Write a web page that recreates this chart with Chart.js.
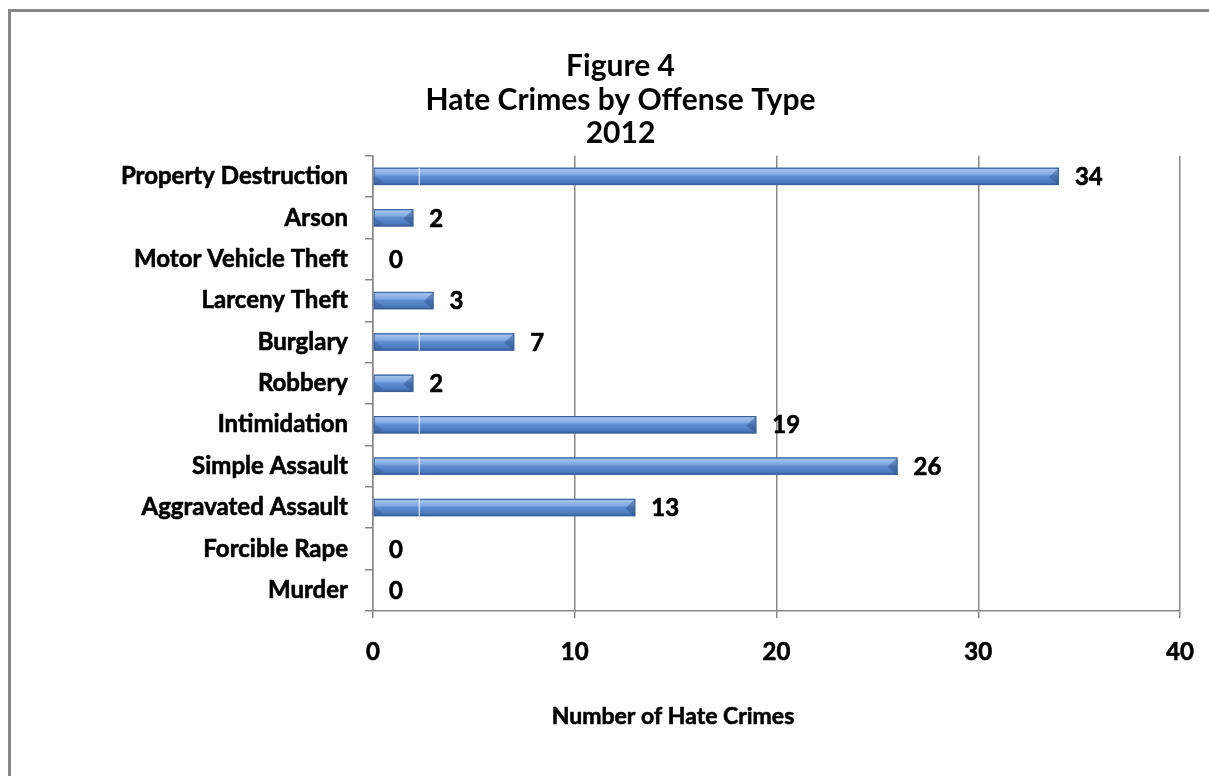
<!DOCTYPE html>
<html>
<head>
<meta charset="utf-8">
<script src="https://cdn.jsdelivr.net/npm/chart.js@4/dist/chart.umd.min.js"></script>
<style>
  html, body { margin: 0; padding: 0; background: #fff; overflow: hidden; }
  #frame { position: absolute; left: 8px; top: 9px; width: 1300px; height: 900px; border: 3px solid #878787; box-sizing: border-box; }
  #wrap { position: absolute; left: 0; top: 0; width: 1209px; height: 776px; }
</style>
</head>
<body>
<div id="frame"></div>
<div id="wrap"><canvas id="chart" width="1209" height="776"></canvas></div>
<script>
var offenseTypes = [
	"Property Destruction",
	"Arson",
	"Motor Vehicle Theft",
	"Larceny Theft",
	"Burglary",
	"Robbery",
	"Intimidation",
	"Simple Assault",
	"Aggravated Assault",
	"Forcible Rape",
	"Murder"
];
var hateCrimes = [34, 2, 0, 3, 7, 2, 19, 26, 13, 0, 0];
var xTicks = [0, 10, 20, 30, 40];
var titleLines = ["Figure 4", "Hate Crimes by Offense Type", "2012"];
var xAxisTitle = "Number of Hate Crimes";

var FONT = "Lato, 'Open Sans', sans-serif";
var gridGray = '#878787';

// draw bold text with a hairline stroke so Lato looks as heavy as the original
function heavyText(ctx, txt, x, y){
	ctx.lineWidth = 0.6;
	ctx.strokeStyle = '#000';
	ctx.strokeText(txt, x, y);
	ctx.fillText(txt, x, y);
}

// shaded bars + value labels, drawn from the bar elements
var barLook = {
	id: 'barLook',
	afterDatasetsDraw: function(chart){
		var ctx = chart.ctx;
		var meta = chart.getDatasetMeta(0);
		meta.data.forEach(function(bar, i){
			var p = bar.getProps(['x', 'y', 'base', 'height'], true);
			var top = p.y - p.height / 2, bottom = p.y + p.height / 2;
			var w = p.x - p.base;
			ctx.save();
			if (w > 1) {
				var g = ctx.createLinearGradient(0, top, 0, bottom);
				g.addColorStop(0, '#4a74b0');
				g.addColorStop(0.1, '#a3c2ec');
				g.addColorStop(0.38, '#82aae4');
				g.addColorStop(0.5, '#5e8dd2');
				g.addColorStop(0.85, '#4b79bd');
				g.addColorStop(1, '#2f5690');
				ctx.fillStyle = g;
				ctx.fillRect(p.base, top, w, p.height);
				var b = Math.min(10, w / 2);
				ctx.fillStyle = 'rgba(40,75,130,0.3)';
				// left bevel
				ctx.beginPath();
				ctx.moveTo(p.base, top + p.height * 0.45);
				ctx.lineTo(p.base + b, bottom - 3);
				ctx.lineTo(p.base, bottom);
				ctx.closePath();
				ctx.fill();
				// right bevel
				ctx.fillStyle = 'rgba(40,75,130,0.45)';
				ctx.beginPath();
				ctx.moveTo(p.x, top);
				ctx.lineTo(p.x - b, top + p.height * 0.55);
				ctx.lineTo(p.x, bottom);
				ctx.closePath();
				ctx.fill();
				ctx.strokeStyle = '#3b649f';
				ctx.lineWidth = 1;
				ctx.strokeRect(p.base + 0.5, top + 0.5, w - 1, p.height - 1);
				if (w > 60) {
					ctx.strokeStyle = 'rgba(255,255,255,0.95)';
					ctx.beginPath();
					ctx.moveTo(p.base + 45.5, top);
					ctx.lineTo(p.base + 45.5, bottom);
					ctx.stroke();
				}
			}
			ctx.fillStyle = '#000';
			ctx.font = 'bold 24px ' + FONT;
			ctx.textAlign = 'left';
			ctx.textBaseline = 'middle';
			heavyText(ctx, String(hateCrimes[i]), p.x + 16, p.y + 1);
			ctx.restore();
		});
	},
	// axis title sits left of the plot centre in the original
	afterDraw: function(chart){
		var ctx = chart.ctx;
		var area = chart.chartArea;
		ctx.save();
		ctx.fillStyle = '#000';
		ctx.font = 'bold 23px ' + FONT;
		ctx.textAlign = 'center';
		ctx.textBaseline = 'middle';
		heavyText(ctx, xAxisTitle, area.left + 300, area.bottom + 106);
		ctx.restore();
	}
};

new Chart(document.getElementById('chart'), {
	type: 'bar',
	data: {
		labels: offenseTypes,
		datasets: [{
			data: hateCrimes,
			backgroundColor: 'rgba(0,0,0,0)',
			borderWidth: 0,
			barPercentage: 0.42,
			categoryPercentage: 1
		}]
	},
	plugins: [barLook],
	options: {
		indexAxis: 'y',
		responsive: false,
		animation: false,
		devicePixelRatio: 1,
		layout: { padding: { left: 61, right: 29, top: 49, bottom: 107 } },
		plugins: {
			legend: { display: false },
			tooltip: { enabled: false },
			title: {
				display: true,
				text: titleLines,
				color: '#000',
				font: { family: FONT, size: 30, weight: 'bold', lineHeight: 1.13 },
				padding: { top: 0, bottom: 5 }
			}
		},
		scales: {
			x: {
				min: 0,
				max: 40,
				afterBuildTicks: function(scale){
					scale.ticks = xTicks.map(function(v){ return { value: v }; });
				},
				afterFit: function(scale){
					scale.height = 58;
					scale.paddingLeft = 0;
					scale.paddingRight = 0;
				},
				grid: { color: gridGray, lineWidth: 1.5, tickLength: 7 },
				border: { color: gridGray, width: 1.5 },
				ticks: {
					color: '#000',
					padding: 20,
					maxRotation: 0,
					textStrokeColor: '#000',
					textStrokeWidth: 0.6,
					font: { family: FONT, size: 24, weight: 'bold' }
				}
			},
			y: {
				afterFit: function(scale){ scale.width = 312; },
				grid: { drawOnChartArea: false, offset: true, color: gridGray, lineWidth: 1.5, tickLength: 8 },
				border: { color: gridGray, width: 1.5 },
				ticks: {
					color: '#000',
					padding: 17,
					autoSkip: false,
					textStrokeColor: '#000',
					textStrokeWidth: 0.6,
					font: { family: FONT, size: 24, weight: 'bold' }
				}
			}
		}
	}
});
</script>
</body>
</html>
